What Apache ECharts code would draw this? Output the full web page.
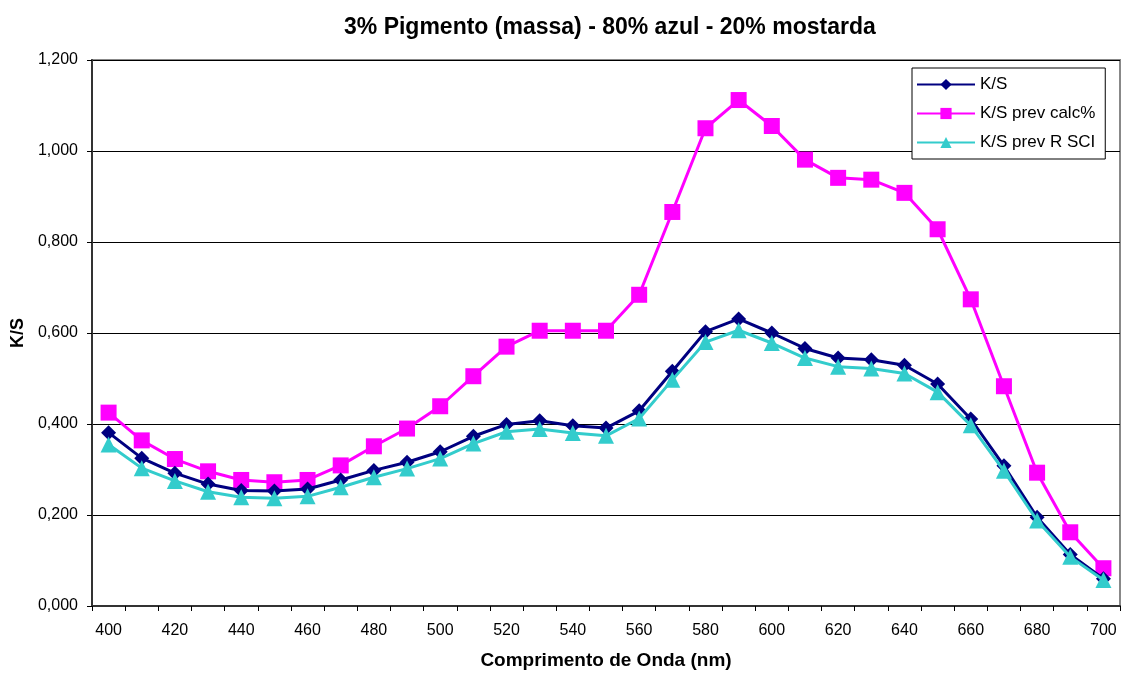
<!DOCTYPE html>
<html>
<head>
<meta charset="utf-8">
<script src="https://cdn.jsdelivr.net/npm/echarts@6/dist/echarts.min.js"></script>
<style>html,body{margin:0;padding:0;background:#fff;}#c{width:1123px;height:675px;}</style>
</head>
<body>
<div id="c"></div>
<script>
const categories = ['400','410','420','430','440','450','460','470','480','490','500','510','520','530','540','550','560','570','580','590','600','610','620','630','640','650','660','670','680','690','700'];
const ksValues = [0.381,0.325,0.292,0.268,0.254,0.253,0.257,0.277,0.298,0.316,0.339,0.373,0.399,0.407,0.396,0.391,0.429,0.516,0.603,0.631,0.600,0.566,0.545,0.541,0.529,0.488,0.411,0.308,0.195,0.113,0.060];
const ksPrevCalc = [0.425,0.364,0.323,0.296,0.277,0.272,0.277,0.309,0.351,0.390,0.439,0.505,0.570,0.605,0.605,0.605,0.684,0.866,1.050,1.112,1.055,0.981,0.941,0.937,0.908,0.828,0.674,0.483,0.293,0.162,0.083];
const ksPrevRSCI = [0.355,0.303,0.275,0.251,0.239,0.237,0.241,0.261,0.283,0.302,0.324,0.357,0.383,0.389,0.380,0.374,0.412,0.497,0.580,0.606,0.578,0.545,0.526,0.522,0.511,0.470,0.397,0.297,0.188,0.108,0.057];
const yTicks = [0, 0.2, 0.4, 0.6, 0.8, 1.0, 1.2];

const chart = echarts.init(document.getElementById('c'), null, {renderer:'canvas'});
const font = 'Liberation Sans, Arial, sans-serif';
chart.setOption({
  backgroundColor:'#fff',
  animation:false,
  title:{
    text:'3% Pigmento (massa) - 80% azul - 20% mostarda',
    left:339, top:11,
    textStyle:{fontFamily:font, fontWeight:'bold', fontSize:23, color:'#000'}
  },
  legend:{
    orient:'vertical',
    left:912, top:68,
    itemWidth:58, itemHeight:14, itemGap:12,
    padding:[8,10,8,4],
    borderColor:'#000', borderWidth:1, backgroundColor:'#fff',
    textStyle:{fontFamily:font, fontSize:17, lineHeight:17, color:'#000'},
    data:['K/S','K/S prev calc%','K/S prev R SCI']
  },
  grid:{left:92, top:60, right:3, bottom:67, show:true, borderColor:'#888', borderWidth:2},
  xAxis:{
    type:'category', data:categories, boundaryGap:true,
    name:'Comprimento de Onda (nm)', nameLocation:'middle', nameGap:45,
    nameTextStyle:{fontFamily:font, fontWeight:'bold', fontSize:19, color:'#000'},
    axisLine:{lineStyle:{color:'#333', width:2}},
    axisTick:{show:true, interval:0, length:5, lineStyle:{color:'#000'}},
    axisLabel:{interval:1, fontFamily:font, fontSize:16, color:'#000', margin:17},
    splitLine:{show:false}
  },
  yAxis:{
    type:'value', min:yTicks[0], max:yTicks[yTicks.length-1], interval:0.2,
    name:'K/S', nameLocation:'middle', nameGap:65, nameRotate:90,
    nameTextStyle:{fontFamily:font, fontWeight:'bold', fontSize:18, color:'#000'},
    axisLine:{show:true, lineStyle:{color:'#333', width:2}},
    axisTick:{show:true, length:5, lineStyle:{color:'#000'}},
    axisLabel:{fontFamily:font, fontSize:16, color:'#000', margin:14,
      formatter:v=>v.toFixed(3).replace('.',',')},
    splitLine:{show:true, lineStyle:{color:'#000', width:1}}
  },
  series:[
    {name:'K/S', type:'line', data:ksValues, symbol:'diamond', symbolSize:15,
      itemStyle:{color:'#000080'}, lineStyle:{color:'#000080', width:3}, z:4},
    {name:'K/S prev calc%', type:'line', data:ksPrevCalc, symbol:'rect', symbolSize:16,
      itemStyle:{color:'#ff00ff'}, lineStyle:{color:'#ff00ff', width:3}, z:3},
    {name:'K/S prev R SCI', type:'line', data:ksPrevRSCI, symbol:'triangle', symbolSize:16,
      itemStyle:{color:'#33cccc'}, lineStyle:{color:'#33cccc', width:3}, z:5}
  ]
});
</script>
</body>
</html>
